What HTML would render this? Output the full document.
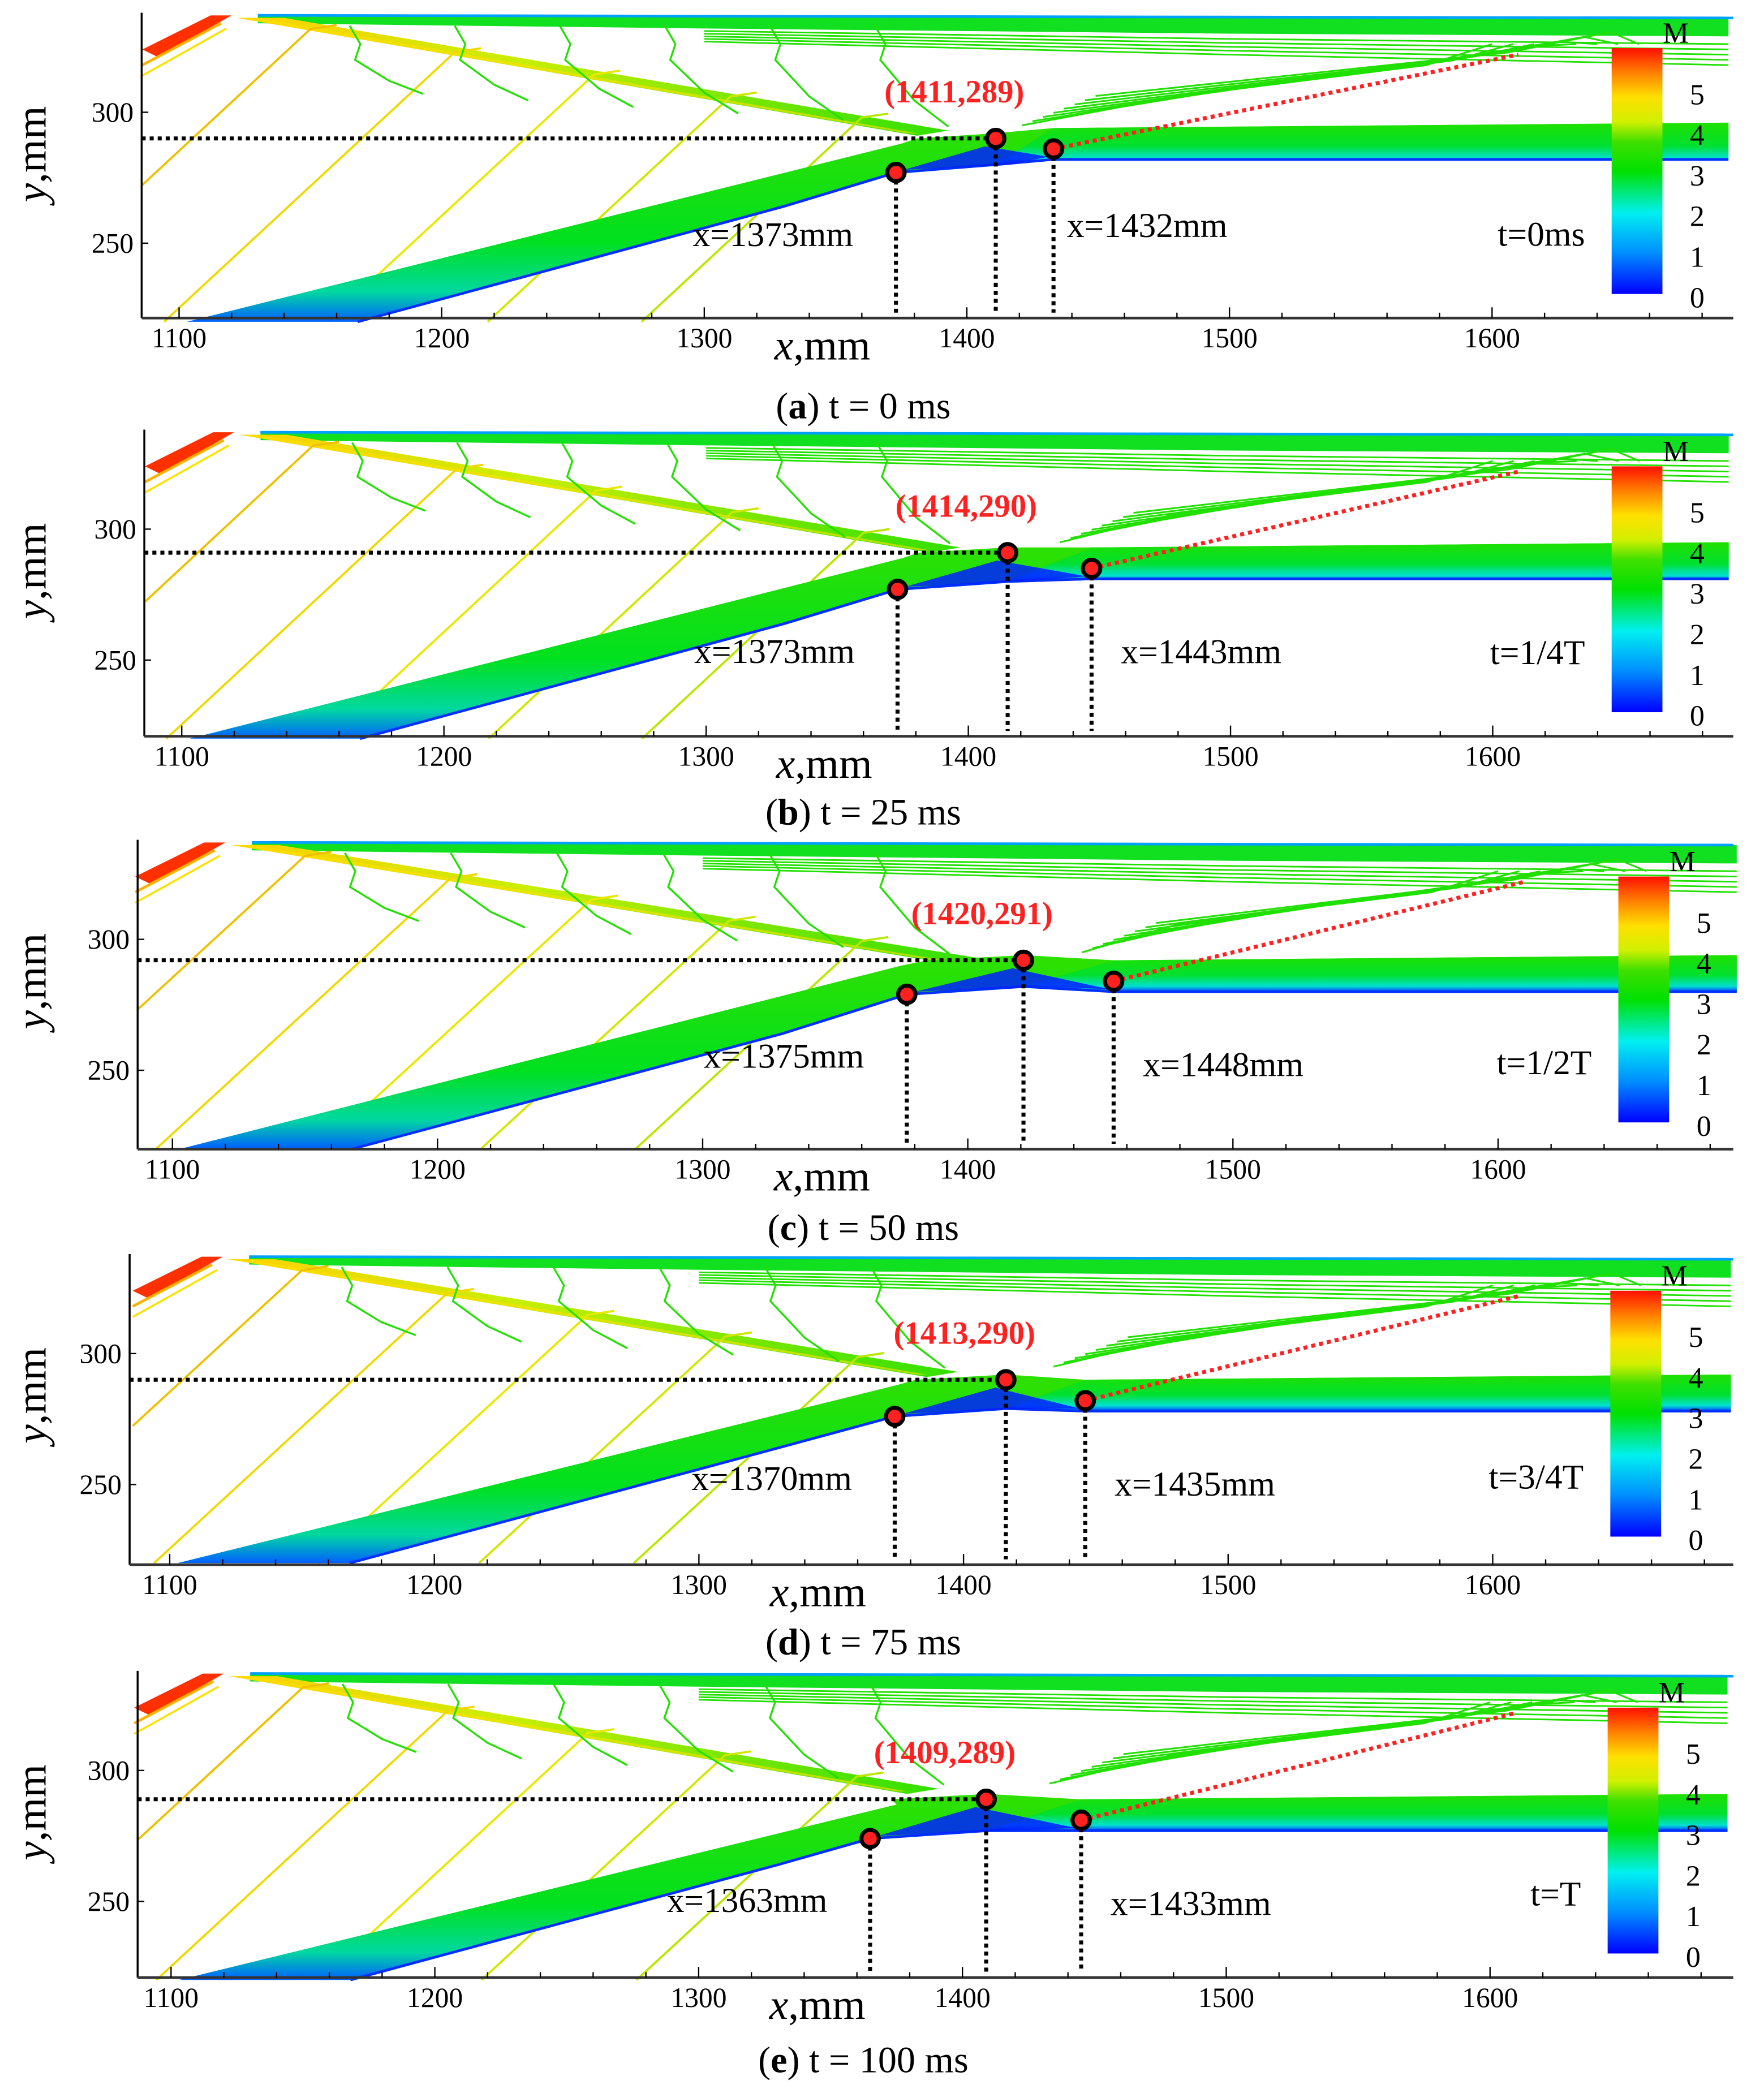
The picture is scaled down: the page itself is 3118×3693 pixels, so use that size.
<!DOCTYPE html>
<html><head><meta charset="utf-8">
<style>
html,body{margin:0;padding:0;background:#fff;}
svg{display:block;font-family:"Liberation Serif",serif;}
</style></head>
<body>
<svg id="fig" width="3118" height="3693" viewBox="0 0 1320 1563.4" xmlns="http://www.w3.org/2000/svg">
<defs>
<linearGradient id="cbar" x1="0" y1="1" x2="0" y2="0">
<stop offset="0" stop-color="#0000ff"/><stop offset="0.17" stop-color="#0090ff"/><stop offset="0.33" stop-color="#00f0f0"/>
<stop offset="0.5" stop-color="#00e000"/><stop offset="0.62" stop-color="#40e000"/><stop offset="0.7" stop-color="#d0f000"/>
<stop offset="0.8" stop-color="#ffe000"/><stop offset="0.9" stop-color="#ff8000"/><stop offset="1" stop-color="#ff1000"/>
</linearGradient>
<linearGradient id="shockG" x1="0" y1="0" x2="1" y2="0">
<stop offset="0" stop-color="#ffd000"/><stop offset="0.4" stop-color="#c8ee00"/><stop offset="1" stop-color="#30e000"/>
</linearGradient>
<linearGradient id="bandG" x1="0" y1="0" x2="0" y2="1">
<stop offset="0" stop-color="#30e000"/><stop offset="0.6" stop-color="#00e020"/><stop offset="0.85" stop-color="#00d8a0"/><stop offset="1" stop-color="#0060ff"/>
</linearGradient>
<linearGradient id="hbandG" x1="0" y1="0" x2="0" y2="1">
<stop offset="0" stop-color="#20e000"/><stop offset="0.55" stop-color="#00e030"/><stop offset="0.85" stop-color="#00e0d0"/><stop offset="1" stop-color="#0040ff"/>
</linearGradient>
</defs>
</svg>
<script>
const panelIds = ["a","b","c","d","e"];
const captionTimes = ["t = 0 ms","t = 25 ms","t = 50 ms","t = 75 ms","t = 100 ms"];
const innerLabels = ["t=0ms","t=1/4T","t=1/2T","t=3/4T","t=T"];
const lowerPointX = [1373,1373,1377,1374,1365];
const lowerPointY = [277,277,279,276,274];
const peakPointX = [1411,1415,1421,1416,1409];
const peakPointY = [290,291,292,290,289];
const thirdPointX = [1433,1447,1455,1446,1445];
const thirdPointY = [286,285,284,282,281];
const coordLabels = ["(1411,289)","(1414,290)","(1420,291)","(1413,290)","(1409,289)"];
const lowerLabels = ["x=1373mm","x=1373mm","x=1375mm","x=1370mm","x=1363mm"];
const thirdLabels = ["x=1432mm","x=1443mm","x=1448mm","x=1435mm","x=1433mm"];
const xTicks = [1100,1200,1300,1400,1500,1600];
const yTicks = [250,300];
const cbarTicks = [0,1,2,3,4,5];
const shockHits = [1150,1205,1258,1310,1360];

const L = [
 {left:106,x0:134,k:1.965,y300:84,  bottom:238,cbx:1206,cby:36},
 {left:108,x0:136,k:1.962,y300:396, bottom:551,cbx:1206,cby:349},
 {left:103,x0:129,k:1.984,y300:703, bottom:860,cbx:1211,cby:656},
 {left:97, x0:127,k:1.980,y300:1013,bottom:1171,cbx:1205,cby:966},
 {left:103,x0:128,k:1.974,y300:1325,bottom:1480,cbx:1203,cby:1278}
];
const capY = [303,607,918,1228,1541];
const NS = "http://www.w3.org/2000/svg";
const svg = document.getElementById("fig");
function mk(tag, attrs, parent, text){
  const e = document.createElementNS(NS, tag);
  for (const k in attrs) e.setAttribute(k, attrs[k]);
  if (text !== undefined) e.textContent = text;
  parent.appendChild(e); return e;
}
for (let i=0;i<5;i++){
  const g = L[i];
  const sx = x => g.x0 + (x-1100)*g.k;
  const sy = y => g.y300 + (300-y)*1.96;
  const right = 1297, top = sy(338);
  const xl = Math.max(1086,(g.left-g.x0)/g.k+1100);
  const grp = mk("g",{},svg);
  
  
  const pts = a => a.map(p=>sx(p[0]).toFixed(1)+","+sy(p[1]).toFixed(1)).join(" ");
  const px2=peakPointX[i], py2=peakPointY[i];
  const px1=lowerPointX[i], py1=lowerPointY[i];
  const px3=thirdPointX[i], py3=thirdPointY[i];
  // top band
  mk("polygon",{points:pts([[1130,337],[1690,336],[1690,329],[1500,330],[1300,332],[1130,334]]),fill:"#10e020"},grp);
  mk("line",{x1:sx(1130),y1:sy(337),x2:right,y2:sy(336),stroke:"#00a0ff","stroke-width":2},grp);
  for (let j=0;j<5;j++){
    mk("polyline",{points:pts([[1300,331-j],[1500,328-j*1.5],[1690,326-j*2]]),stroke:"#20e000","stroke-width":1.2,fill:"none"},grp);
  }
  // inlet lip
  mk("polygon",{points:pts([[1086,324],[1112,337],[1120,337],[1092,321]]),fill:"#ff3000"},grp);
  mk("polyline",{points:pts([[1086,318],[1116,334]]),stroke:"#ffb000","stroke-width":2,fill:"none"},grp);
  mk("polyline",{points:pts([[1086,314],[1118,332]]),stroke:"#ffe000","stroke-width":1.5,fill:"none"},grp);
  // upper shock band
  mk("polygon",{points:pts([[1122,336],[1140,336],[px2-18,293],[px2-30,291]]),fill:"url(#shockG)"},grp);
  mk("polygon",{points:pts([[1122,336],[1130,336],[px2-30,292],[px2-34,292]]),fill:"#ffe000",opacity:0.6},grp);
  // yellow contour lines
  shockHits.forEach((h,j)=>{
    const ys = 335-(h-1130)*(335-293)/(px2-20-1130);
    let xb = h-(ys-220)/0.93, yb=220;
    if (xb<xl){ xb=xl; yb=ys-(h-xl)*0.93; }
    const col = ["#f0c000","#f0d800","#e8e800","#d0e800","#b8e800"][j];
    mk("polyline",{points:pts([[xb,yb],[h,ys],[h+10,ys+1.5]]),stroke:col,"stroke-width":1.6,fill:"none"},grp);
  });
  // green wavy contours upper region
  [1165,1205,1245,1285,1325,1365].forEach((x,j)=>{
    mk("polyline",{points:pts([[x,333],[x+4,326],[x+2,320],[x+15,312-j*1.5],[x+28,307-j*2.5]]),stroke:"#20e000","stroke-width":1.4,fill:"none"},grp);
  });
  // fan after third point
  for (let j=0;j<8;j++){
    mk("polyline",{points:pts([[px3-12+j*4,295+j*1.6],[1480+j*18,306+j*2.4],[1575+j*10,318+j*1.8],[1600+j*8,326]]),stroke:"#20e000","stroke-width":1.3,fill:"none"},grp);
  }
  // lower thick band
  mk("polygon",{points:pts([[1103,220],[1168,220],[1330,264],[px1,py1],[px2,py1+3],[px3,py3-4],[1690,py3-4],[1690,py3+10],[px3,py3+8],[px2,py2+2],[px1+8,py2],[1375,py2-2],[1103,220]]),fill:"url(#bandG)"},grp);
  mk("polygon",{points:pts([[px2,py1+3],[px3,py3-4],[1690,py3-4],[1690,py3+10],[px3,py3+8]]),fill:"url(#hbandG)"},grp);
  mk("polyline",{points:pts([[1168,220],[1330,264],[px1,py1],[px2,py1+3],[px3,py3-4],[1690,py3-4]]),stroke:"#0030ff","stroke-width":2,fill:"none"},grp);
  mk("polygon",{points:pts([[px1+3,py1+1],[px2-4,py2-3],[px3-2,py3-3],[px2+5,py1+3]]),fill:"#0020ff",opacity:0.85},grp);
  // axes
  const ax = mk("g",{},grp);
  
  
  mk("line",{x1:g.left,y1:top,x2:g.left,y2:g.bottom,stroke:"#000","stroke-width":1.5},ax);
  mk("line",{x1:g.left,y1:g.bottom,x2:right,y2:g.bottom,stroke:"#333","stroke-width":2},ax);
  for (let x=1100;x<=1690;x+=20){
    const t = mk("line",{x1:sx(x),y1:g.bottom,x2:sx(x),y2:g.bottom-(x%100===0?8:4),stroke:"#000","stroke-width":1},ax);
    
    
  }
  xTicks.forEach(v=>{
    const t=mk("text",{x:sx(v),y:g.bottom+22,"font-size":21,"text-anchor":"middle"},ax,String(v));
    
    
  });
  yTicks.forEach(v=>{
    mk("line",{x1:g.left,y1:sy(v),x2:g.left+5,y2:sy(v),stroke:"#000"},ax);
    const t=mk("text",{x:g.left-6,y:sy(v)+7,"font-size":21,"text-anchor":"end"},ax,String(v));
    
    
  });
  const xt=mk("text",{x:sx(1345),y:g.bottom+31,"font-size":32,"text-anchor":"middle"},ax);
  
  
  mk("tspan",{"font-style":"italic"},xt,"x");
  mk("tspan",{},xt,",mm");
  const yt=mk("text",{x:0,y:0,"font-size":32,"text-anchor":"middle",transform:`translate(34,${sy(284)}) rotate(-90)`},ax);
  
  
  mk("tspan",{"font-style":"italic"},yt,"y");
  mk("tspan",{},yt,",mm");
  // dashed guide lines
  mk("line",{x1:g.left,y1:sy(py2),x2:sx(px2),y2:sy(py2),stroke:"#000","stroke-width":3,"stroke-dasharray":"3,3"},grp);
  [px1,px2,px3].forEach((x,j)=>{
    const yy=[py1,py2,py3][j];
    const d=mk("line",{x1:sx(x),y1:sy(yy),x2:sx(x),y2:g.bottom-4,stroke:"#000","stroke-width":3,"stroke-dasharray":"3,3"},grp);
    
    
  });
  mk("line",{x1:sx(px3),y1:sy(py3),x2:sx(1610),y2:sy(322),stroke:"#ff2020","stroke-width":3,"stroke-dasharray":"3,3"},grp);
  [[px1,py1],[px2,py2],[px3,py3]].forEach(p=>{
    const c=mk("circle",{cx:sx(p[0]),cy:sy(p[1]),r:6.5,fill:"#ff2020",stroke:"#000","stroke-width":3},grp);
    
    
  });
  const cl=mk("text",{x:sx(px2)-31,y:sy(py2)-27,"font-size":24,"font-weight":"bold",fill:"#ff2020","text-anchor":"middle"},grp,coordLabels[i]);
  
  
  const l1=mk("text",{x:sx(px1)-32,y:sy(py1)+55,"font-size":26,"text-anchor":"end"},grp,lowerLabels[i]);
  
  
  const l3=mk("text",{x:sx(px3)+10+(i?12:0),y:sy(py3)+(i?71:66),"font-size":26},grp,thirdLabels[i]);
  
  
  const tl=mk("text",{x:g.cbx-20,y:g.cby+148,"font-size":26,"text-anchor":"end"},grp,innerLabels[i]);
  
  
  const cb=mk("g",{},grp);
  
  
  mk("rect",{x:g.cbx,y:g.cby,width:38,height:184,fill:"url(#cbar)"},cb);
  cbarTicks.forEach(v=>{
    const yy = g.cby+186-v*30.4;
    mk("text",{x:g.cbx+64,y:yy+8,"font-size":22,"text-anchor":"middle"},cb,String(v));
  });
  mk("text",{x:g.cbx+48,y:g.cby-4,"font-size":22,"text-anchor":"middle"},cb,"M");
  const cap=mk("text",{x:646,y:capY[i]+10,"font-size":28,"text-anchor":"middle"},svg);
  
  
  mk("tspan",{},cap,"(");
  mk("tspan",{"font-weight":"bold"},cap,panelIds[i]);
  mk("tspan",{},cap,") "+captionTimes[i]);
}
</script>
</body></html>
